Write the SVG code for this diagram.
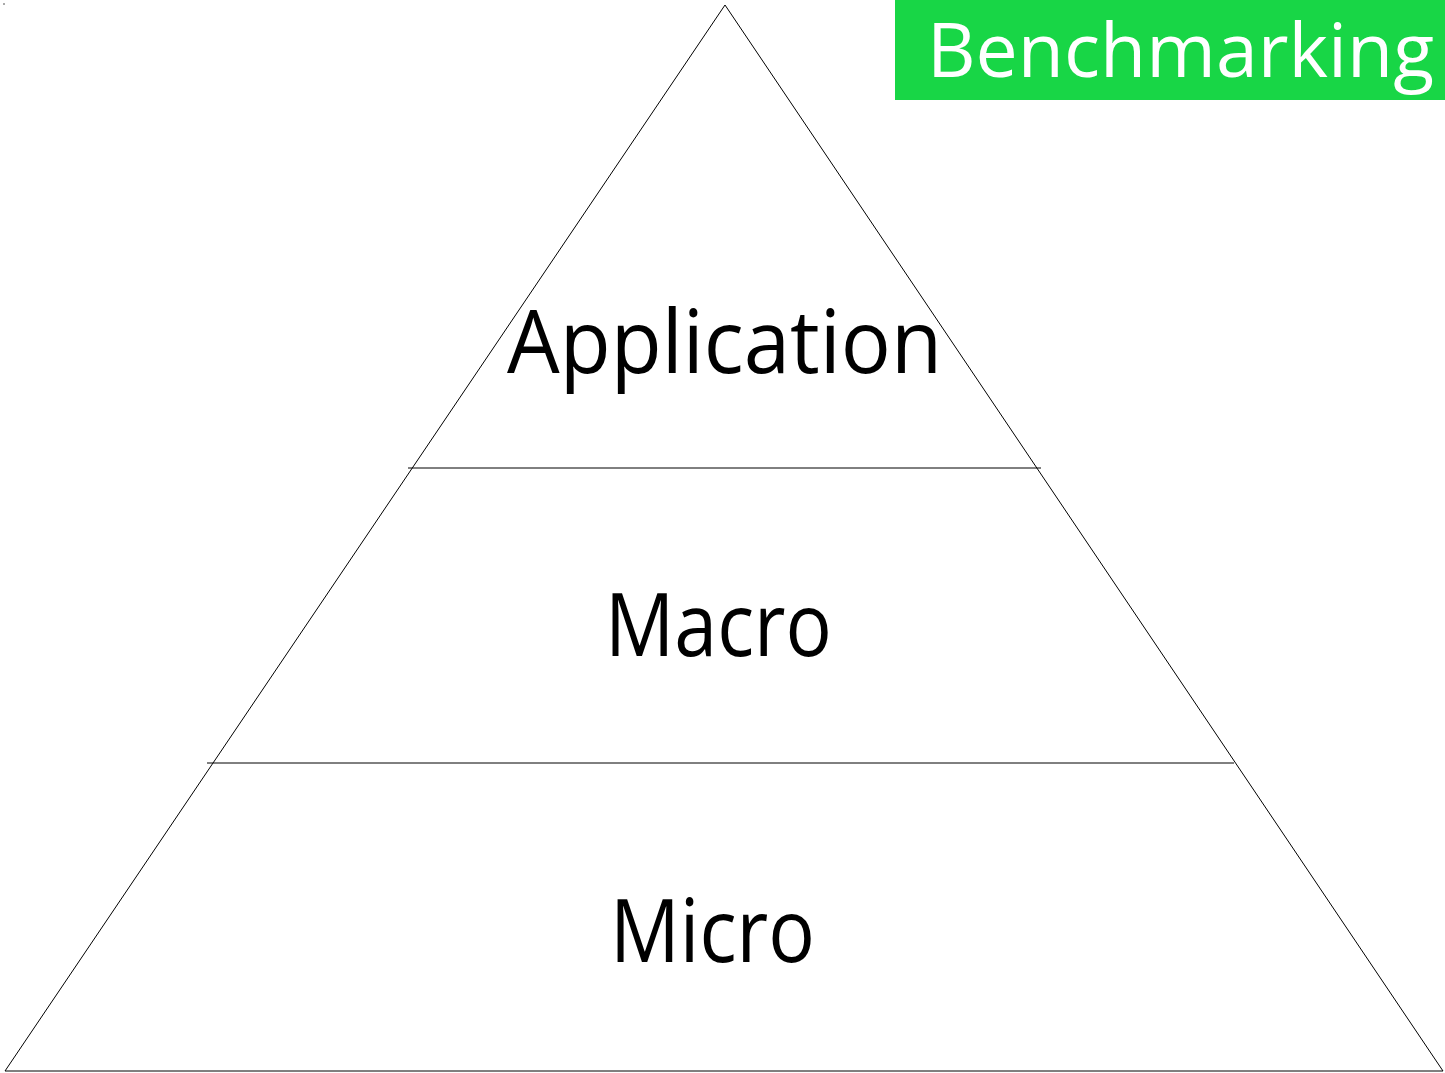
<svg xmlns="http://www.w3.org/2000/svg" width="1445" height="1073" viewBox="0 0 1445 1073">
  <style>
    .edge { stroke: #000; stroke-width: 1; fill: none; }
    .tier { font-family: "Open Sans", "Noto Sans", sans-serif; font-size: 88px; fill: #000; }
    .badge { font-family: "Open Sans", "Noto Sans", sans-serif; font-size: 75px; fill: #fff; }
  </style>
  <rect width="1445" height="1073" fill="#fff"/>
  <line x1="3" y1="4" x2="5" y2="4" stroke="#555" stroke-width="1"/>

  <g id="pyramid">
    <polygon class="edge" points="725,5 5,1071 1443,1071"/>
  </g>

  <g id="dividers">
    <line class="edge" x1="408" y1="468" x2="1041" y2="468" stroke="#333"/>
    <line class="edge" x1="207" y1="763" x2="1234" y2="763" stroke="#333"/>
  </g>

  <g id="tier-application">
    <text class="tier" x="507" y="373" textLength="435" lengthAdjust="spacingAndGlyphs">Application</text>
  </g>
  <g id="tier-macro">
    <text class="tier" x="605" y="656" textLength="227" lengthAdjust="spacingAndGlyphs">Macro</text>
  </g>
  <g id="tier-micro">
    <text class="tier" x="610" y="962" textLength="205" lengthAdjust="spacingAndGlyphs">Micro</text>
  </g>

  <g id="badge">
    <rect x="895" y="0" width="550" height="100" fill="#18d646"/>
    <text class="badge" x="927" y="77" textLength="507" lengthAdjust="spacingAndGlyphs">Benchmarking</text>
  </g>
</svg>
